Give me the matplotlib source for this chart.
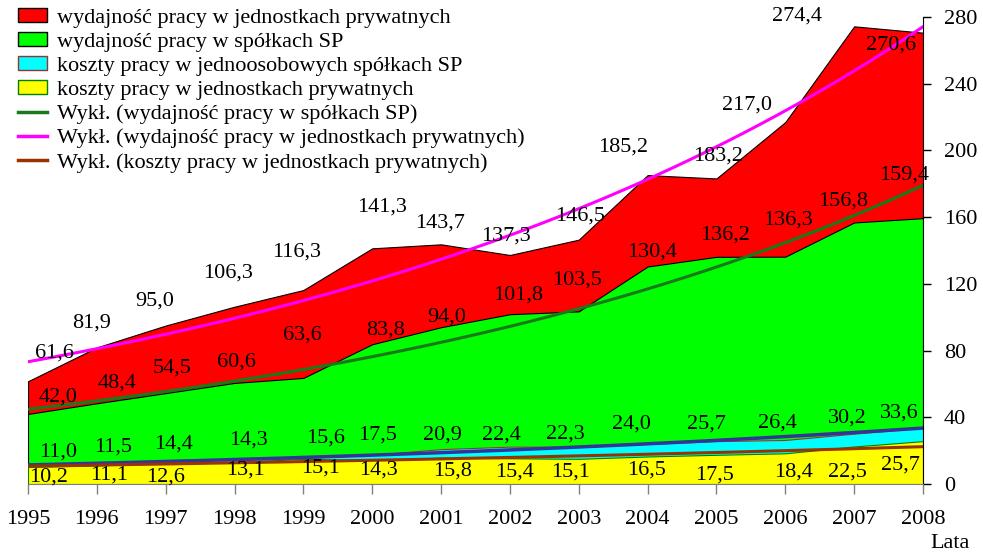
import numpy as np
import matplotlib
matplotlib.use("Agg")
import matplotlib.pyplot as plt
from matplotlib.patches import Patch
from matplotlib.lines import Line2D

plt.rcParams['font.family'] = ['Liberation Serif', 'DejaVu Serif']

years = [1995, 1996, 1997, 1998, 1999, 2000, 2001, 2002, 2003, 2004, 2005, 2006, 2007, 2008]
wyd_pryw = [61.6, 81.9, 95.0, 106.3, 116.3, 141.3, 143.7, 137.3, 146.5, 185.2, 183.2, 217.0, 274.4, 270.6]
wyd_sp = [42.0, 48.4, 54.5, 60.6, 63.6, 83.8, 94.0, 101.8, 103.5, 130.4, 136.2, 136.3, 156.8, 159.4]
koszt_sp = [11.0, 11.5, 14.4, 14.3, 15.6, 17.5, 20.9, 22.4, 22.3, 24.0, 25.7, 26.4, 30.2, 33.6]
koszt_pryw = [10.2, 11.1, 12.6, 13.1, 15.1, 14.3, 15.8, 15.4, 15.1, 16.5, 17.5, 18.4, 22.5, 25.7]

names = ["wydajność pracy w jednostkach prywatnych",
         "wydajność pracy w spółkach SP",
         "koszty pracy w jednoosobowych spółkach SP",
         "koszty pracy w jednostkach prywatnych"]
trend_names = ["Wykł. (wydajność pracy w spółkach SP)",
               "Wykł. (wydajność pracy w jednostkach prywatnych)",
               "Wykł. (koszty pracy w jednostkach prywatnych)"]
y_ticks = [0, 40, 80, 120, 160, 200, 240, 280]

# label offsets in pixels (dx right, dy down)
off_red = [(26, -28), (-5, -24), (-11, -25), (-6, -34), (-7, -38), (10, -41), (-1, -21),
           (-4, -19), (1, -24), (-25, -28), (2, -22), (-38, -17), (-57, -10), (-32, 12)]
off_green = [(30, -17), (20, -20), (6, -25), (2, -21), (-1, -43), (13, -14), (6, -10),
             (8, -19), (-2, -31), (4, -14), (9, -22), (3, -37), (-11, -21), (-19, -43)]
off_cyan = [(30, -14), (16, -18), (8, -16), (14, -20), (22, -20), (5, -20), (1, -14),
            (-8, -12), (-13, -13), (-16, -20), (-10, -17), (-8, -17), (-7, -16), (-24, -15)]
off_yellow = [(21, 10), (12, 10), (0, 14), (11, 8), (17, 9), (6, 10), (11, 13),
              (5, 14), (-8, 13), (-1, 14), (-2, 20), (8, 19), (-7, 26), (-23, 24)]

W, H = 983, 552
fig = plt.figure(figsize=(W / 100, H / 100), dpi=100)
ax = fig.add_axes([28 / W, 1 - 484 / H, (923 - 28) / W, (484 - 17) / H])

x = np.array(years, dtype=float)

series = [
    (wyd_pryw, '#ff0000', 'black', off_red),
    (wyd_sp, '#00ff00', 'black', off_green),
    (koszt_sp, '#00ffff', '#993333', off_cyan),
    (koszt_pryw, '#ffff00', '#008000', off_yellow),
]
for i, (vals, fc, ec, _) in enumerate(series):
    ax.fill_between(x, 0, vals, facecolor=fc, edgecolor=ec, linewidth=0.8, zorder=1 + i)


def exp_trend(vals):
    t = x - x[0]
    b, a = np.polyfit(t, np.log(vals), 1)
    tt = np.linspace(0, t[-1], 200)
    return x[0] + tt, np.exp(a + b * tt)


tx, ty = exp_trend(koszt_sp)
ax.plot(tx, ty, color='#333399', lw=2.5, zorder=6)
tx, ty = exp_trend(koszt_pryw)
ax.plot(tx, ty, color='#993300', lw=2.2, zorder=6)
tx, ty = exp_trend(wyd_sp)
ax.plot(tx, ty, color='#1a7a1a', lw=2.2, zorder=6)
tx, ty = exp_trend(wyd_pryw)
ax.plot(tx, ty, color='#ff00ff', lw=2.2, zorder=6)

for vals, fc, ec, offs in series:
    for xi, v, (dx, dy) in zip(x, vals, offs):
        ax.annotate(f"{v:.1f}".replace('.', ','), (xi, v), xytext=(dx, -dy),
                    textcoords='offset pixels', ha='center', va='center',
                    fontsize=16, color='black', zorder=10, annotation_clip=False)

ax.set_xlim(years[0], years[-1])
ax.set_ylim(0, 280)
ax.set_xticks(years)
ax.set_xticklabels([str(y) for y in years])
ax.yaxis.tick_right()
ax.set_yticks(y_ticks)
ax.tick_params(axis='y', direction='out', length=6, width=1, color='black', pad=9, labelsize=16)
ax.tick_params(axis='x', direction='out', length=7, width=1, color='#808080', pad=12, labelsize=16)
for s in ['left', 'top']:
    ax.spines[s].set_visible(False)
ax.spines['right'].set_color('black')
ax.spines['bottom'].set_color('#808080')
for s in ax.spines.values():
    s.set_zorder(8)

fig.text(970 / W, 1 - 543 / H, "Lata", ha='right', va='center', fontsize=16)

handles = [
    Patch(facecolor='#ff0000', edgecolor='black', linewidth=1),
    Patch(facecolor='#00ff00', edgecolor='black', linewidth=1),
    Patch(facecolor='#00ffff', edgecolor='#993333', linewidth=1),
    Patch(facecolor='#ffff00', edgecolor='#008000', linewidth=1),
    Line2D([], [], color='#1a7a1a', lw=2.5),
    Line2D([], [], color='#ff00ff', lw=2.5),
    Line2D([], [], color='#993300', lw=2.5),
]
fig.legend(handles, names + trend_names, loc='upper left', bbox_to_anchor=(18 / W, 1 - 8 / H),
           frameon=False, fontsize=16, handlelength=1.3, handleheight=0.6,
           handletextpad=0.45, labelspacing=0.19, borderpad=0, borderaxespad=0)

fig.savefig("out.png", dpi=100)
